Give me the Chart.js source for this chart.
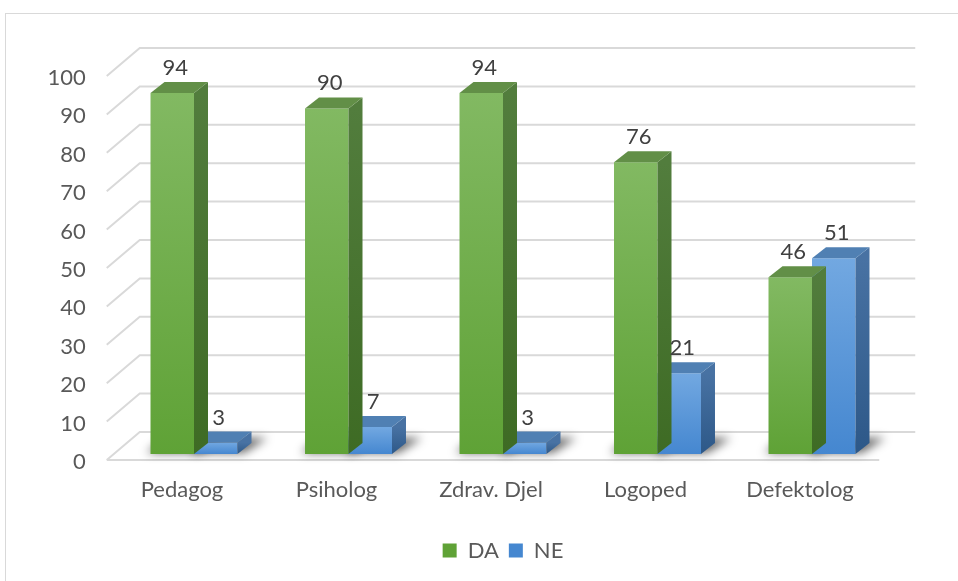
<!DOCTYPE html>
<html>
<head>
<meta charset="utf-8">
<script src="https://cdn.jsdelivr.net/npm/chart.js@4.4.1/dist/chart.umd.min.js"></script>
<style>
    html, body { margin: 0; padding: 0; background: #fff; overflow: hidden; }
    #wrap { position: relative; width: 958px; height: 581px; }
    #frame { position: absolute; left: 5px; top: 13px; width: 1000px; height: 700px; border: 1px solid #d9d9d9; box-sizing: border-box; }
    canvas { position: absolute; left: 0; top: 0; }
</style>
</head>
<body>
<div id="wrap">
    <div id="frame"></div>
    <canvas id="chart" width="958" height="581"></canvas>
</div>
<script>
// ======================================
// DATA
// ======================================
const categories = ["Pedagog", "Psiholog", "Zdrav. Djel", "Logoped", "Defektolog"];
const daValues = [94, 90, 94, 76, 46];
const neValues = [3, 7, 3, 21, 51];
const yMin = 0;
const yMax = 100;
const yStep = 10;

// ======================================
// 3D LOOK
// ======================================
const depthX = 14;
const depthY = 11;
const frontOffset = 6;     // floor front edge below the bar plane
const wallX = 33, wallY = 28;
const gridColor = "#d9d9d9";

const colors = {
    da: { top: "#82b962", bottom: "#5fa236", side1: "#527d3d", side2: "#3e6b24", cap: "#628f47", legend: "#70ad47" },
    ne: { top: "#72a8e1", bottom: "#4587d0", side1: "#4872a3", side2: "#2d5888", cap: "#5080b3", legend: "#5b9bd5" }
};

function barFill(c) {
    return (ctx) => {
        const chart = ctx.chart;
        if (ctx.type !== "data" || !chart.chartArea || !chart.scales.y) return c.legend;
        const y = chart.scales.y;
        const top = y.getPixelForValue(ctx.raw);
        const base = y.getPixelForValue(0);
        const g = chart.ctx.createLinearGradient(0, top, 0, base);
        g.addColorStop(0, c.top);
        g.addColorStop(1, c.bottom);
        return g;
    };
}

const threeD = {
    id: "threeD",
    beforeDatasetsDraw(chart) {
        const ctx = chart.ctx;
        const y = chart.scales.y;
        const area = chart.chartArea;
        const leftFront = area.left - 10;
        const rightBack = area.right + 26;
        ctx.save();
        ctx.strokeStyle = gridColor;
        ctx.lineWidth = 2;
        y.ticks.forEach(t => {
            const yf = y.getPixelForValue(t.value) + frontOffset;
            ctx.beginPath();
            ctx.moveTo(leftFront, yf);
            ctx.lineTo(leftFront + wallX, yf - wallY);
            ctx.lineTo(rightBack, yf - wallY);
            ctx.stroke();
        });
        // floor front edge
        const y0 = y.getPixelForValue(0) + frontOffset;
        ctx.beginPath();
        ctx.moveTo(leftFront, y0);
        ctx.lineTo(area.right - 10, y0);
        ctx.stroke();

        // floor shadows
        ctx.filter = "blur(5px)";
        ctx.fillStyle = "rgba(0,0,0,0.6)";
        chart.data.datasets.forEach((ds, di) => {
            chart.getDatasetMeta(di).data.forEach(bar => {
                const xl = bar.x - bar.width / 2, xr = bar.x + bar.width / 2;
                const b = bar.base;
                ctx.beginPath();
                ctx.moveTo(xl - 4, b - 1);
                ctx.lineTo(xr + 6, b - 1);
                ctx.lineTo(xr + 30, b - 16);
                ctx.lineTo(xl + 14, b - 16);
                ctx.closePath();
                ctx.fill();
            });
        });
        ctx.restore();
    },
    afterDatasetDraw(chart, args) {
        const ctx = chart.ctx;
        const c = args.index === 0 ? colors.da : colors.ne;
        ctx.save();
        args.meta.data.forEach((bar, i) => {
            const xl = bar.x - bar.width / 2, xr = bar.x + bar.width / 2;
            const top = bar.y, base = bar.base;
            // side face
            const gs = ctx.createLinearGradient(0, top, 0, base);
            gs.addColorStop(0, c.side1);
            gs.addColorStop(1, c.side2);
            ctx.fillStyle = gs;
            ctx.beginPath();
            ctx.moveTo(xr, top);
            ctx.lineTo(xr + depthX, top - depthY);
            ctx.lineTo(xr + depthX, base - depthY);
            ctx.lineTo(xr, base);
            ctx.closePath();
            ctx.fill();
            // top face
            ctx.fillStyle = c.cap;
            ctx.beginPath();
            ctx.moveTo(xl, top);
            ctx.lineTo(xl + depthX, top - depthY);
            ctx.lineTo(xr + depthX, top - depthY);
            ctx.lineTo(xr, top);
            ctx.closePath();
            ctx.fill();
        });
        ctx.restore();
    },
    afterDatasetsDraw(chart) {
        const ctx = chart.ctx;
        ctx.save();
        ctx.font = "22px Lato";
        ctx.fillStyle = "#404040";
        ctx.textAlign = "center";
        ctx.textBaseline = "middle";
        chart.data.datasets.forEach((ds, di) => {
            chart.getDatasetMeta(di).data.forEach((bar, i) => {
                ctx.fillText(String(ds.data[i]), bar.x + 3, bar.y - 25);
            });
        });
        ctx.restore();
    }
};

// ======================================
// CHART INIT
// ======================================
Chart.defaults.font.family = "Lato";
Chart.defaults.font.size = 22;
Chart.defaults.color = "#595959";

new Chart(document.getElementById("chart"), {
    type: "bar",
    data: {
        labels: categories,
        datasets: [
            { label: "DA", data: daValues, backgroundColor: barFill(colors.da), borderWidth: 0 },
            { label: "NE", data: neValues, backgroundColor: barFill(colors.ne), borderWidth: 0 }
        ]
    },
    options: {
        responsive: false,
        animation: false,
        devicePixelRatio: 1,
        layout: { padding: { top: 70, right: 68.75, bottom: 9.5, left: 0 } },
        datasets: { bar: { barPercentage: 1, categoryPercentage: 0.563 } },
        scales: {
            x: {
                grid: { display: false, drawTicks: false },
                border: { display: false },
                ticks: { padding: 23, labelOffset: -12, maxRotation: 0, autoSkip: false },
                afterFit: (s) => { s.height = 75.5; }
            },
            y: {
                min: yMin,
                max: yMax,
                grid: { display: false, drawTicks: false },
                border: { display: false },
                ticks: { stepSize: yStep, padding: 31, labelOffset: 8 },
                afterFit: (s) => { s.width = 116.75; }
            }
        },
        plugins: {
            legend: {
                position: "bottom",
                fullSize: false,
                labels: { boxWidth: 14, boxHeight: 14, padding: 10, color: "#595959", font: { size: 22 } }
            },
            tooltip: { enabled: false }
        }
    },
    plugins: [threeD]
});
</script>
</body>
</html>
